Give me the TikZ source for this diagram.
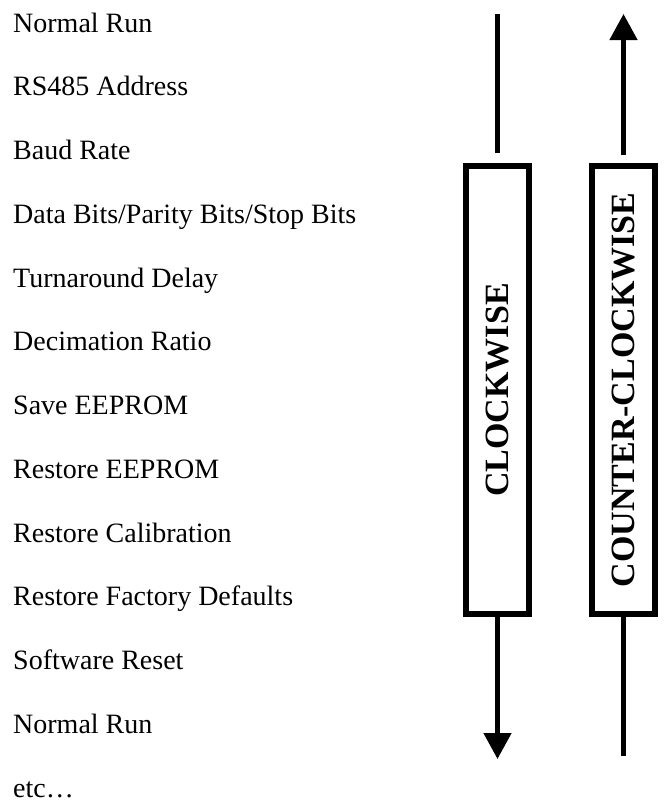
\documentclass[tikz,border=0pt]{standalone}
\usepackage{fontspec}
\setmainfont{Liberation Serif}
\usetikzlibrary{arrows.meta}

\begin{document}
\begin{tikzpicture}[x=1pt,y=-1pt]
	\tikzstyle{item}=[anchor=base west, inner sep=0pt, font=\fontsize{28}{32}\selectfont]
	\tikzstyle{dirbox}=[draw, line width=5.7pt, minimum width=63.3pt, minimum height=448.3pt, inner sep=0pt, font=\fontsize{34}{40}\selectfont\bfseries]
	\tikzstyle{flow}=[line width=4.7pt]
	\tikzstyle{tip}=[-{Triangle[length=26pt,width=27pt]}]
	\useasboundingbox (0,0) rectangle (672,801);
	% menu items
	\node[item] (m0) at (13,32) {Normal Run};
	\node[item] (m1) at (13,95.75) {RS485 Address};
	\node[item] (m2) at (13,159.5) {Baud Rate};
	\node[item] (m3) at (13,223.25) {Data Bits/Parity Bits/Stop Bits};
	\node[item] (m4) at (13,287) {Turnaround Delay};
	\node[item] (m5) at (13,350.75) {Decimation Ratio};
	\node[item] (m6) at (13,414.5) {Save EEPROM};
	\node[item] (m7) at (13,478.25) {Restore EEPROM};
	\node[item] (m8) at (13,542) {Restore Calibration};
	\node[item] (m9) at (13,605.75) {Restore Factory Defaults};
	\node[item] (m10) at (13,669.5) {Software Reset};
	\node[item] (m11) at (13,733.25) {Normal Run};
	\node[item] (m12) at (13,797) {etc\ldots};
	% direction boxes
	\node[dirbox] (cw) at (497.5,390) {\rotatebox{90}{CLOCKWISE}};
	\node[dirbox] (ccw) at (623.5,390) {\rotatebox{90}{COUNTER-CLOCKWISE}};
	\coordinate (cwin) at (497.5,14);
	\coordinate (cwout) at (497.5,759);
	\coordinate (ccwin) at (623.5,756);
	\coordinate (ccwout) at (623.5,14);
	\draw[flow, shorten >=10pt] (cwin) -- (cw.north);
	\draw[flow, tip] (cw.south) -- (cwout);
	\draw[flow] (ccwin) -- (ccw.south);
	\draw[flow, tip, shorten <=8pt] (ccw.north) -- (ccwout);
\end{tikzpicture}
\end{document}
